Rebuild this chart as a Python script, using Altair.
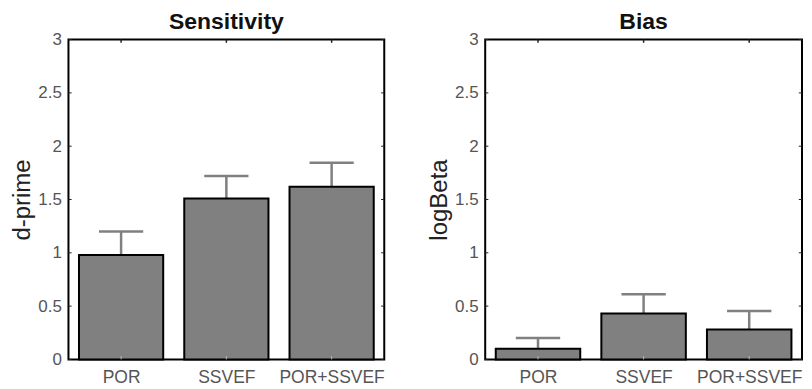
import altair as alt
import pandas as pd

categories = ["POR", "SSVEF", "POR+SSVEF"]
sens_values = [0.98, 1.51, 1.62]
sens_errors = [0.22, 0.21, 0.225]
bias_values = [0.10, 0.43, 0.28]
bias_errors = [0.10, 0.18, 0.175]
y_ticks = [0, 0.5, 1, 1.5, 2, 2.5, 3]

FONT = "Liberation Sans"
BAR_W = 0.8
CAP_W = 0.42
TICK_LEN = 0.03

label_expr = "[" + ",".join("'%s'" % c for c in categories) + "][datum.value - 1]"
positions = list(range(1, len(categories) + 1))


def panel(title, ytitle, values, errors, width):
    df = pd.DataFrame({"cat": categories, "pos": positions, "value": values, "err": errors})
    df["lo"] = df["pos"] - BAR_W / 2
    df["hi"] = df["pos"] + BAR_W / 2
    df["top"] = df["value"] + df["err"]
    df["capl"] = df["pos"] - CAP_W / 2
    df["capr"] = df["pos"] + CAP_W / 2

    xs = alt.Scale(domain=[0.5, len(categories) + 0.5], nice=False, zero=False)
    ys = alt.Scale(domain=[y_ticks[0], y_ticks[-1]], nice=False, zero=False)

    xaxis = alt.Axis(values=positions, labelExpr=label_expr, ticks=False, tickSize=0,
                     domain=False, grid=False, labelPadding=9, labelFontSize=17.5,
                     labelFont=FONT, labelColor="#555555", title=None, labelAngle=0)
    yaxis = alt.Axis(values=y_ticks, format=".1~f", ticks=False, tickSize=0, domain=False,
                     grid=False, labelPadding=7, labelFontSize=17, labelFont=FONT,
                     labelColor="#555555", title=ytitle, titleFontSize=24, titleFont=FONT,
                     titleFontWeight="normal", titleColor="#222222", titlePadding=3)

    base = alt.Chart(df)
    err_v = base.mark_rule(color="#808080", strokeWidth=2.5).encode(
        x=alt.X("pos:Q", scale=xs, axis=xaxis),
        y=alt.Y("value:Q", scale=ys, axis=yaxis),
        y2="top:Q",
    )
    err_c = base.mark_rule(color="#808080", strokeWidth=2.5).encode(
        x="capl:Q", x2="capr:Q", y="top:Q"
    )
    bars = base.mark_rect(fill="#808080", stroke="black", strokeWidth=2).encode(
        x="lo:Q", x2="hi:Q", y="value:Q", y2=alt.datum(0)
    )

    tdf = pd.DataFrame({"t": y_ticks})
    tdf["x0"] = 0.5
    tdf["x1"] = 0.5 + TICK_LEN
    tdf["r0"] = len(categories) + 0.5
    tdf["r1"] = len(categories) + 0.5 - TICK_LEN
    lt = alt.Chart(tdf).mark_rule(color="#222222", strokeWidth=1).encode(
        x="x0:Q", x2="x1:Q", y="t:Q")
    rt = alt.Chart(tdf).mark_rule(color="#222222", strokeWidth=1).encode(
        x="r0:Q", x2="r1:Q", y="t:Q")
    cdf = pd.DataFrame({"p": positions})
    cdf["ytop"] = y_ticks[-1]
    cdf["ytop2"] = y_ticks[-1] - TICK_LEN
    cdf["ybot"] = y_ticks[0]
    cdf["ybot2"] = y_ticks[0] + TICK_LEN
    tt = alt.Chart(cdf).mark_rule(color="#222222", strokeWidth=1.5).encode(
        x="p:Q", y="ytop:Q", y2="ytop2:Q")
    bt = alt.Chart(cdf).mark_rule(color="#bbbbbb", strokeWidth=1).encode(
        x="p:Q", y="ybot:Q", y2="ybot2:Q")

    return alt.layer(err_v, err_c, bars, lt, rt, tt, bt).properties(
        width=width, height=320,
        view=alt.ViewBackground(stroke="black", strokeWidth=2),
        title=alt.TitleParams(title, fontSize=23, fontWeight="bold", font=FONT,
                              color="#111111", offset=-3, anchor="middle"),
    )


left = panel("Sensitivity", "d-prime", sens_values, sens_errors, 316)
right = panel("Bias", "logBeta", bias_values, bias_errors, 317)

chart = alt.hconcat(left, right, spacing=40).properties(
    padding={"left": 1.5, "top": 1.5, "right": 0, "bottom": 0},
    background="white",
).configure_view(stroke="black", strokeWidth=2)

chart.save("out.html", embed_options={"renderer": "svg", "actions": False})
